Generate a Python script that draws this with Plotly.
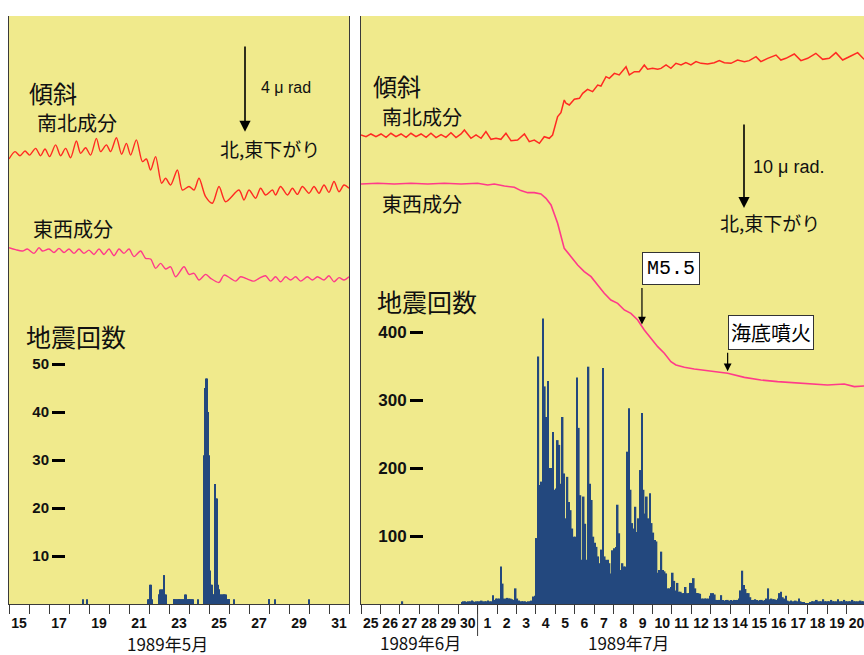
import numpy as np
import plotly.graph_objects as go

W, H = 864, 655

# ---------------- May 1989 : time in days since 15 May 00:00 ----------------
may_label_days = [15, 17, 19, 21, 23, 25, 27, 29, 31]

# ground tilt, north-south component (micro-radian, relative to start)
may_ns_t = [0.00, 0.30, 0.55, 0.80, 1.03, 1.33, 1.58, 1.80, 2.03, 2.33, 2.58, 2.83, 3.08,
            3.37, 3.58, 3.83, 4.08, 4.37, 4.58, 4.87, 5.08, 5.37, 5.63, 5.87, 6.08, 6.37,
            6.67, 6.87, 7.08, 7.33, 7.63, 7.83, 8.08, 8.42, 8.67, 9.00, 9.25, 9.50, 9.83,
            10.17, 10.50, 10.83, 11.50, 11.75, 12.00, 12.33, 12.58, 12.83, 13.17, 13.33,
            13.58, 13.92, 14.17, 14.42, 14.67, 15.00, 15.25, 15.50, 15.75, 16.00, 16.25,
            16.50, 16.75, 17.00]
may_ns = [0.00, 0.34, 0.15, 0.37, 0.18, 0.49, 0.15, 0.46, 0.11, 0.65, 0.15, 0.49, 0.06,
          0.83, 0.26, 0.52, 0.18, 0.95, 0.34, 0.65, 0.34, 0.98, 0.22, 0.72, 0.18, 0.88,
          -0.12, 0.00, -0.51, 0.11, -1.12, -0.89, -1.20, -0.51, -1.43, -1.27, -1.43, -0.89, -1.74,
          -2.04, -1.27, -1.97, -1.43, -1.89, -1.43, -1.81, -1.35, -1.66, -1.43, -1.66,
          -1.27, -1.66, -1.35, -1.63, -1.27, -1.58, -1.27, -1.58, -1.20, -1.54, -1.04,
          -1.51, -1.20, -1.35]

# ground tilt, east-west component (micro-radian, relative to start)
may_ew_t = [0.00, 0.33, 0.67, 0.92, 1.25, 1.50, 1.67, 2.00, 2.25, 2.50, 2.75, 3.00, 3.25,
            3.50, 3.75, 4.00, 4.25, 4.50, 4.75, 5.00, 5.25, 5.50, 5.75, 6.00, 6.25,
            6.58, 6.83, 7.08, 7.33, 7.58, 7.83, 8.08, 8.33, 8.75, 9.00, 9.25, 9.50, 9.83,
            10.08, 10.50, 10.75, 11.08, 11.33, 11.58, 11.83, 12.25, 12.50, 12.83, 13.08,
            13.33, 13.58, 13.83, 14.08, 14.33, 14.58, 14.92, 15.17, 15.42, 15.75, 16.00,
            16.25, 16.50, 16.75, 17.00]
may_ew = [0.00, -0.09, -0.15, -0.06, -0.26, 0.00, -0.15, -0.06, -0.22, -0.03, -0.22, -0.06, -0.26,
          -0.06, -0.26, -0.11, -0.31, -0.06, -0.31, -0.06, -0.37, -0.06, -0.26, -0.06, -0.41,
          -0.15, -0.49, -0.52, -0.95, -0.72, -0.98, -0.88, -1.34, -0.88, -1.23, -1.18, -1.49, -1.23,
          -1.41, -1.60, -1.26, -1.41, -1.54, -1.34, -1.41, -1.54, -1.41, -1.29, -1.54,
          -1.34, -1.57, -1.34, -1.49, -1.34, -1.54, -1.34, -1.49, -1.34, -1.49, -1.29,
          -1.57, -1.38, -1.49, -1.34]

# hourly earthquake counts (hour since 15 May 00:00)
may_hours = [88, 93, 166, 167, 169, 170, 171, 179, 180, 181, 182, 183, 184, 185, 186, 187, 188,
             197, 198, 199, 200, 201, 202, 203, 204, 205, 206, 207, 208, 209,
             211, 212, 213, 214, 215, 216, 217, 218, 219, 220, 226,
             234, 235, 236, 237, 238, 239, 240, 241, 242, 243, 244, 245, 246, 247, 248, 249,
             250, 251, 252, 253, 254, 255, 256, 257, 258, 259, 260, 261, 262, 263, 264,
             270, 311, 312, 319, 359]
may_counts = [1, 1, 1, 1, 4, 4, 1, 2, 2, 3, 3, 3, 3, 6, 6, 2, 2,
              1, 1, 1, 1, 1, 1, 1, 1, 1, 1, 1, 1, 1,
              2, 2, 1, 1, 1, 1, 1, 1, 1, 1, 1,
              31, 45, 47, 47, 40, 31, 7, 7, 4, 4, 2, 2, 2, 25, 22, 22,
              4, 3, 3, 2, 2, 2, 2, 2, 2, 2, 2, 1, 1, 1, 1,
              1, 1, 1, 1, 1]
may_count_ticks = [10, 20, 30, 40, 50]

# ------------- June-July 1989 : time in days since 25 June 00:00 -------------
jul_day_labels = ["25", "26", "27", "28", "29", "30"] + [str(d) for d in range(1, 21)]

jul_ns_t = [0.00, 0.26, 0.51, 0.77, 1.03, 1.29, 1.54, 1.80, 2.06, 2.32,
            2.57, 2.83, 3.09, 3.35, 3.60, 3.86, 4.12, 4.37, 4.63, 4.89,
            5.15, 5.32, 5.66, 5.92, 6.18, 6.43, 6.69, 6.95, 7.20, 7.46,
            7.72, 8.06, 8.41, 8.66, 8.92, 9.18, 9.43, 9.69, 9.86, 10.12,
            10.29, 10.46, 10.55, 10.72, 10.98, 11.24, 11.41, 11.66, 11.92, 12.18,
            12.35, 12.61, 12.78, 13.04, 13.29, 13.47, 13.64, 13.81, 14.07, 14.32,
            14.58, 14.75, 15.01, 15.27, 15.44, 15.70, 15.95, 16.21, 16.47, 16.72,
            16.98, 17.24, 17.50, 17.84, 18.18, 18.44, 18.70, 19.04, 19.38, 19.73,
            19.98, 20.33, 20.58, 20.93, 21.36, 21.61, 21.87, 22.30, 22.64, 22.99,
            23.41, 23.76, 24.10, 24.44, 24.79, 25.21, 25.56, 25.89]
jul_ns = [0.00, -0.20, 0.12, -0.20, 0.12, -0.27, 0.20, -0.20, 0.12, -0.27,
          0.20, -0.20, 0.12, -0.27, 0.20, -0.31, 0.04, -0.27, 0.27, -0.31,
          0.12, 0.59, -0.39, 0.00, -0.39, 0.39, -0.51, -0.39, -0.51, 0.20,
          -0.67, -0.59, 0.12, -0.78, -0.59, -0.98, -0.20, -0.39, 0.00, 2.16,
          2.63, 4.12, 3.73, 3.53, 4.20, 4.31, 4.90, 5.37, 5.10, 5.88,
          5.76, 6.86, 6.67, 7.25, 7.06, 7.57, 8.04, 7.06, 7.45, 7.45,
          8.24, 7.73, 7.84, 7.73, 7.84, 8.24, 7.84, 8.43, 8.24, 8.51,
          8.24, 8.63, 8.43, 8.35, 8.51, 8.75, 8.51, 8.43, 8.82, 8.63,
          8.75, 9.22, 8.63, 9.02, 9.41, 8.82, 9.02, 9.53, 8.75, 9.02,
          9.61, 8.90, 9.02, 9.69, 8.82, 9.29, 9.69, 8.90]

jul_ew_t = [0.00, 0.86, 1.72, 2.57, 3.43, 4.29, 5.15, 6.00, 6.52, 6.86,
            7.38, 7.89, 8.23, 8.58, 8.92, 9.26, 9.52, 9.78, 10.12, 10.29,
            10.46, 10.81, 11.15, 11.49, 11.84, 12.18, 12.52, 12.86, 13.21, 13.55,
            13.89, 14.24, 14.58, 14.92, 15.27, 15.61, 15.95, 16.21, 16.64, 17.15,
            18.01, 18.87, 19.73, 20.58, 21.44, 22.30, 23.16, 24.01, 24.87, 25.39, 25.89]
jul_ew = [0.00, 0.08, 0.00, 0.08, 0.00, 0.08, 0.00, 0.08, -0.12, 0.00,
          -0.24, -0.39, -0.78, -1.02, -1.02, -1.18, -1.69, -2.47, -4.63, -6.20,
          -7.57, -8.55, -9.53, -10.31, -10.90, -11.88, -12.86, -13.65, -14.04, -14.82,
          -15.22, -16.00, -17.18, -18.16, -19.14, -19.92, -20.90, -21.29, -21.57, -21.76,
          -22.00, -22.27, -22.75, -23.06, -23.25, -23.37, -23.45, -23.65, -23.53, -23.84, -23.76]

# earthquake counts per 2-hour bin, one row per day (25 June .. 20 July)
jul_counts_2h = [
    0, 0, 0, 0, 0, 0, 0, 0, 0, 0, 0, 0,                          # 6/25
    0, 0, 0, 0, 0, 0, 0, 0, 0, 0, 0, 0,                          # 6/26
    0, 4, 0, 0, 0, 0, 0, 0, 0, 0, 0, 0,                          # 6/27
    0, 0, 0, 0, 0, 0, 0, 0, 0, 0, 0, 0,                          # 6/28
    0, 0, 0, 0, 0, 0, 0, 0, 0, 0, 0, 0,                          # 6/29
    0, 0, 3, 4, 4, 3, 4, 4, 5, 4, 3, 4,                          # 6/30
    4, 4, 5, 4, 4, 4, 5, 4, 4, 13, 6, 8,                         # 7/1
    8, 8, 55, 30, 8, 8, 9, 8, 8, 7, 6, 23,                       # 7/2
    8, 5, 4, 4, 4, 4, 3, 4, 4, 5, 11, 12,                        # 7/3
    97, 364, 175, 180, 420, 320, 275, 328, 200, 200, 253, 168,   # 7/4
    170, 241, 234, 177, 275, 192, 126, 187, 150, 138, 111, 99,   # 7/5
    99, 333, 259, 160, 65, 158, 118, 65, 349, 177, 153, 99,      # 7/6
    90, 84, 70, 60, 80, 347, 70, 65, 65, 60, 45, 79,             # 7/7
    82, 84, 146, 104, 50, 60, 55, 55, 224, 288, 168, 119,        # 7/8
    111, 143, 106, 126, 197, 281, 168, 133, 158, 126, 163, 119,  # 7/9
    105, 94, 92, 46, 50, 77, 50, 48, 45, 23, 23, 25,             # 7/10
    46, 34, 20, 31, 18, 18, 16, 16, 25, 16, 16, 31,              # 7/11
    31, 38, 23, 16, 16, 15, 8, 8, 8, 8, 8, 12,                   # 7/12
    16, 16, 14, 6, 6, 6, 13, 6, 5, 6, 6, 5,                      # 7/13
    6, 5, 6, 6, 6, 8, 20, 49, 28, 22, 16, 16,                    # 7/14
    10, 6, 6, 7, 6, 5, 6, 6, 5, 6, 8, 23,                        # 7/15
    7, 8, 7, 7, 6, 8, 16, 18, 10, 8, 12, 5,                      # 7/16
    4, 5, 4, 4, 5, 4, 8, 4, 2, 2, 1, 1,                          # 7/17
    1, 3, 4, 4, 4, 6, 4, 4, 4, 7, 4, 4,                          # 7/18
    4, 4, 6, 4, 4, 4, 7, 4, 4, 4, 6, 4,                          # 7/19
    4, 4, 4, 6, 4, 4, 4, 4, 5, 4, 4, 4,                          # 7/20
]
jul_count_ticks = [100, 200, 300, 400]

# marked events (days since 25 June)
events = ["M5.5", "海底噴火"]
event_t = [14.46, 18.87]

# ------------------------------- styling -------------------------------------
BG = "#F0EA8C"
AX = "#3A3A3A"
NAVY = "#23487E"
NS_COL = "#FF2A22"
EW_COL = "#FF3A8A"
JP = "Noto Sans CJK JP"
NUM = "Liberation Sans"


def fx(x):
    return x / W


def fy(y):
    return 1 - y / H


dom_y = [fy(604), fy(16)]
left_dom = [fx(9), fx(349)]
right_dom = [fx(361), 1.0]
left_range = [0, 17]
right_range = [0, (W - 361) / 19.43]

fig = go.Figure()

# tilt curves
fig.add_trace(go.Scatter(x=may_ns_t, y=may_ns, xaxis="x", yaxis="y", mode="lines",
                         line=dict(color=NS_COL, width=1.4, shape="spline", smoothing=0.8)))
fig.add_trace(go.Scatter(x=may_ew_t, y=may_ew, xaxis="x", yaxis="y3", mode="lines",
                         line=dict(color=EW_COL, width=1.4, shape="spline", smoothing=0.8)))
fig.add_trace(go.Scatter(x=jul_ns_t, y=jul_ns, xaxis="x2", yaxis="y2", mode="lines",
                         line=dict(color=NS_COL, width=1.5)))
fig.add_trace(go.Scatter(x=jul_ew_t, y=jul_ew, xaxis="x2", yaxis="y4", mode="lines",
                         line=dict(color=EW_COL, width=1.6)))

# earthquake counts
fig.add_trace(go.Bar(x=[h / 24 + 1 / 48 for h in may_hours], y=may_counts,
                     width=1 / 24 * 1.05, xaxis="x", yaxis="y5",
                     marker=dict(color=NAVY, line=dict(width=0))))
jul_t = [k / 12 + 1 / 24 for k in range(len(jul_counts_2h))]
fig.add_trace(go.Bar(x=jul_t, y=jul_counts_2h, width=1 / 12 * 1.04, xaxis="x2", yaxis="y6",
                     marker=dict(color=NAVY, line=dict(width=0))))

tickfont = dict(family=NUM, size=14, color="#111")


def bottom_axis(dom, rng, vals, texts, anchor, day_ticks):
    return dict(domain=dom, range=rng, anchor=anchor, showline=True, linecolor=AX,
                linewidth=1, showgrid=False, zeroline=False, fixedrange=True,
                tickmode="array", tickvals=vals, ticktext=[f"<b>{t}</b>" for t in texts],
                ticks="outside", ticklen=6, tickcolor="rgba(0,0,0,0)", tickfont=tickfont,
                ticklabeloverflow="allow",
                minor=dict(tickmode="array", tickvals=day_ticks, ticks="outside",
                           ticklen=9, tickwidth=1, tickcolor=AX, showgrid=False))


def top_axis(over, rng, anchor, day_ticks):
    return dict(overlaying=over, side="top", anchor=anchor, range=rng, showline=True,
                linecolor=AX, linewidth=1, tickmode="array", tickvals=day_ticks,
                ticks="outside", ticklen=8, tickcolor=AX, showticklabels=False,
                showgrid=False, zeroline=False, fixedrange=True)


hidden = dict(visible=False, fixedrange=True, showgrid=False, zeroline=False)


def count_axis(over, pos, rng, vals, size):
    return dict(overlaying=over, anchor="free", position=pos, range=rng,
                tickmode="array", tickvals=vals, ticktext=[f"<b>{v}</b>" for v in vals],
                ticks="outside", ticklen=13, tickwidth=3, tickcolor="#000",
                tickfont=dict(family=NUM, size=size, color="#111"),
                showline=False, showgrid=False, zeroline=False, fixedrange=True)


may_ticks = list(range(0, 18))
jul_ticks = list(range(0, 27))

fig.update_layout(
    width=W, height=H, autosize=False,
    margin=dict(l=0, r=0, t=0, b=0),
    paper_bgcolor="white", plot_bgcolor=BG,
    showlegend=False, barmode="overlay",
    xaxis=bottom_axis(left_dom, left_range, [d - 15 + 0.5 for d in may_label_days],
                      [str(d) for d in may_label_days], "y", may_ticks),
    xaxis3=top_axis("x", left_range, "y", may_ticks),
    xaxis2=bottom_axis(right_dom, right_range, [i + 0.5 for i in range(len(jul_day_labels))],
                       jul_day_labels, "y2", jul_ticks),
    xaxis4=top_axis("x2", right_range, "y2", jul_ticks),
    yaxis=dict(domain=dom_y, anchor="x", range=[-20.51, 6.59], showline=True, mirror=True,
               linecolor=AX, linewidth=1, showticklabels=False, ticks="", showgrid=False,
               zeroline=False, fixedrange=True),
    yaxis3=dict(overlaying="y", range=[-16.42, 10.68], **hidden),
    yaxis5=count_axis("y", fx(65), [0, 588 / 4.8], may_count_ticks, 15),
    yaxis2=dict(domain=dom_y, anchor="x2", range=[-55.18, 14.0], showline=True, mirror=False,
                linecolor=AX, linewidth=1, showticklabels=False, ticks="", showgrid=False,
                zeroline=False, fixedrange=True),
    yaxis4=dict(overlaying="y2", range=[-49.41, 19.76], **hidden),
    yaxis6=count_axis("y2", fx(423), [0, 588 / 0.68], jul_count_ticks, 17),
)

# longer tick at the June/July boundary
fig.add_shape(type="line", xref="x2", yref="paper", x0=6, x1=6, y0=fy(604), y1=fy(636),
              line=dict(color=AX, width=1))


def label(text, x, y, size, family=JP, color="#111"):
    fig.add_annotation(text=text, x=fx(x), y=fy(y), xref="paper", yref="paper",
                       showarrow=False, font=dict(family=family, size=size, color=color),
                       xanchor="center", yanchor="middle")


# left panel texts
label("傾斜", 53, 92, 24)
label("南北成分", 77, 122, 20)
label("東西成分", 73, 228, 20)
label("4 μ rad", 286, 88, 16, NUM)
label("北,東下がり", 270, 148, 19)
label("地震回数", 76, 336, 25)
label("1989年5月", 167, 643, 17)

# right panel texts
label("傾斜", 397, 86, 24)
label("南北成分", 422, 117, 20)
label("東西成分", 422, 203, 20)
label("10 μ rad.", 788, 167, 18, NUM)
label("北,東下がり", 770, 222, 19)
label("地震回数", 427, 301, 25)
label("1989年6月", 420, 642, 17)
label("1989年7月", 628, 642, 17)

# tilt scale arrows drawn in tilt units
fig.add_annotation(x=fx(245), xref="paper", y=1.25, yref="y", ax=0, axref="pixel",
                   ay=5.25, ayref="y", text="", showarrow=True, arrowhead=2,
                   arrowsize=1.4, arrowwidth=1.6, arrowcolor="#000")
fig.add_annotation(x=fx(744), xref="paper", y=-8.6, yref="y2", ax=0, axref="pixel",
                   ay=1.4, ayref="y2", text="", showarrow=True, arrowhead=2,
                   arrowsize=1.4, arrowwidth=1.6, arrowcolor="#000")

# event markers on the east-west tilt curve
for name, t, lift, size, fam, pad in zip(events, event_t, [40, 22], [20, 20],
                                          ["Liberation Mono", JP], [4, 2]):
    tip = float(np.interp(t, jul_ew_t, jul_ew))
    fig.add_annotation(x=t, y=tip, xref="x2", yref="y4", ax=0, ay=-lift, text="",
                       showarrow=True, arrowhead=2, arrowsize=1.3, arrowwidth=1.2,
                       arrowcolor="#000", standoff=2)
    fig.add_annotation(x=t, y=tip, xref="x2", yref="y4", yshift=lift + 1, text=name,
                       showarrow=False, xanchor="left", yanchor="bottom",
                       font=dict(family=fam, size=size, color="#000"),
                       bgcolor="white", bordercolor="#333", borderwidth=1, borderpad=pad)

fig.write_html("out.html")
